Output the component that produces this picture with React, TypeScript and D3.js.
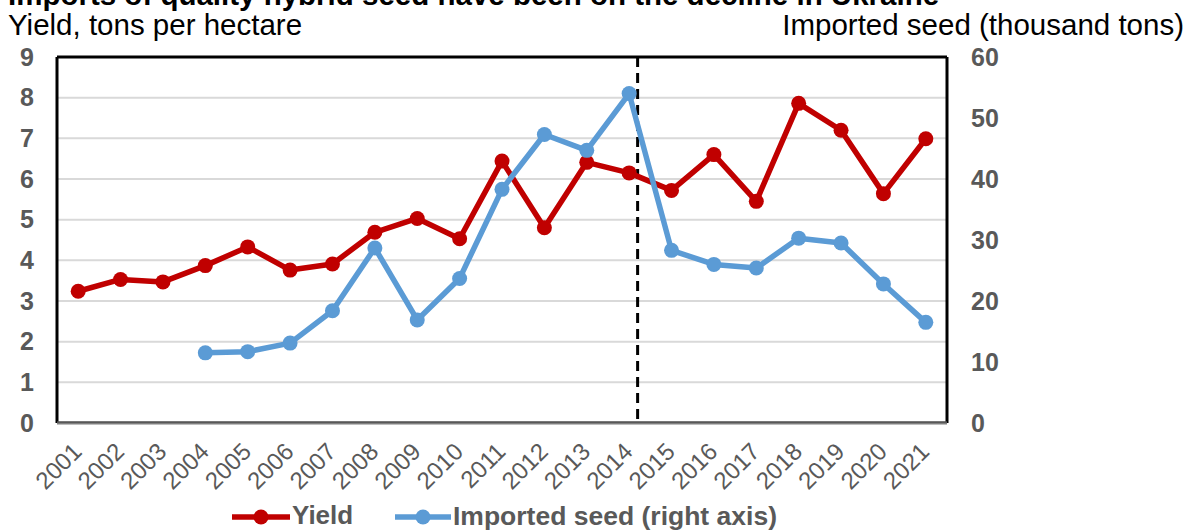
import React from "react";
import * as d3 from "d3";

const years = [2001, 2002, 2003, 2004, 2005, 2006, 2007, 2008, 2009, 2010, 2011, 2012, 2013, 2014, 2015, 2016, 2017, 2018, 2019, 2020, 2021];
const yieldValues = [3.24, 3.53, 3.47, 3.87, 4.33, 3.76, 3.91, 4.69, 5.03, 4.53, 6.44, 4.8, 6.41, 6.15, 5.72, 6.6, 5.45, 7.86, 7.2, 5.64, 6.99];
const importedValues: (number | null)[] = [null, null, null, 11.5, 11.7, 13.1, 18.4, 28.7, 16.9, 23.7, 38.3, 47.3, 44.7, 54.0, 28.3, 26.0, 25.4, 30.3, 29.5, 22.8, 16.5];
const leftTicks = [0, 1, 2, 3, 4, 5, 6, 7, 8, 9];
const rightTicks = [0, 10, 20, 30, 40, 50, 60];
const dividerYear = 2014.2;

const title = "Imports of quality hybrid seed have been on the decline in Ukraine";
const leftTitle = "Yield, tons per hectare";
const rightTitle = "Imported seed (thousand tons)";
const seriesNames = ["Yield", "Imported seed (right axis)"];

const RED = "#C00000";
const BLUE = "#5B9BD5";
const GRAY = "#595959";

export default function App() {
  const W = 1191, H = 531;
  const left = 57, right = 947, top = 57, bottom = 423;
  const x = d3.scaleLinear().domain([2000.5, 2021.5]).range([left, right]);
  const yL = d3.scaleLinear().domain([0, 9]).range([bottom, top]);
  const yR = d3.scaleLinear().domain([0, 60]).range([bottom, top]);

  const yieldLine = d3.line<number>().x((_, i) => x(years[i])).y((d) => yL(d));
  const impPts = years.map((yr, i) => ({ yr, v: importedValues[i] })).filter((d) => d.v != null) as { yr: number; v: number }[];
  const impLine = d3.line<{ yr: number; v: number }>().x((d) => x(d.yr)).y((d) => yR(d.v));

  const font = "Arial, 'Liberation Sans', sans-serif";
  const legY = 515;

  return (
    <svg width={W} height={H} style={{ position: "absolute", left: 0, top: 0 }} fontFamily={font}>
      <rect x={0} y={0} width={W} height={H} fill="#fff" />
      <text x={8} y={5} fontSize={29.5} fontWeight="bold" fill="#000">{title}</text>
      <text x={8} y={35} fontSize={29.5} fill="#000">{leftTitle}</text>
      <text x={1184} y={35} fontSize={29.5} fill="#000" textAnchor="end">{rightTitle}</text>

      {leftTicks.filter((t) => t > 0 && t < 9).map((t) => (
        <line key={t} x1={left} x2={right} y1={yL(t)} y2={yL(t)} stroke="#D9D9D9" strokeWidth={2} />
      ))}

      <line x1={left} x2={left} y1={top} y2={bottom} stroke="#000" strokeWidth={3} />
      <line x1={right} x2={right} y1={top} y2={bottom} stroke="#000" strokeWidth={3} />
      <line x1={left} x2={right} y1={top} y2={top} stroke="#000" strokeWidth={3} />
      <line x1={left} x2={right} y1={bottom} y2={bottom} stroke="#7F7F7F" strokeWidth={3} />
      <line x1={left} x2={right} y1={bottom - 1} y2={bottom - 1} stroke="#333" strokeWidth={1} />

      {leftTicks.map((t) => (
        <text key={t} x={34} y={yL(t)} dy="0.35em" fontSize={25} fontWeight="bold" fill={GRAY} textAnchor="end">{t}</text>
      ))}
      {rightTicks.map((t) => (
        <text key={t} x={971} y={yR(t)} dy="0.35em" fontSize={25} fontWeight="bold" fill={GRAY}>{t}</text>
      ))}
      {years.map((yr) => (
        <text key={yr} transform={`translate(${x(yr) + 5},${bottom + 30}) rotate(-45)`} fontSize={24} fill={GRAY} textAnchor="end">{yr}</text>
      ))}

      <line x1={x(dividerYear)} x2={x(dividerYear)} y1={top} y2={bottom} stroke="#000" strokeWidth={3} strokeDasharray="10,6" />

      <path d={yieldLine(yieldValues) || ""} fill="none" stroke={RED} strokeWidth={5.5} strokeLinejoin="round" />
      {yieldValues.map((v, i) => (
        <circle key={i} cx={x(years[i])} cy={yL(v)} r={7.5} fill={RED} />
      ))}
      <path d={impLine(impPts) || ""} fill="none" stroke={BLUE} strokeWidth={5.5} strokeLinejoin="round" />
      {impPts.map((d, i) => (
        <circle key={i} cx={x(d.yr)} cy={yR(d.v)} r={7.5} fill={BLUE} />
      ))}

      <g>
        <line x1={232} x2={290} y1={legY + 2} y2={legY + 2} stroke={RED} strokeWidth={5.5} />
        <circle cx={261} cy={legY + 2} r={7.5} fill={RED} />
        <text x={292} y={legY} dy="0.36em" fontSize={26} fontWeight="bold" fill={GRAY}>{seriesNames[0]}</text>
        <line x1={395} x2={451} y1={legY + 2} y2={legY + 2} stroke={BLUE} strokeWidth={5.5} />
        <circle cx={423} cy={legY + 2} r={7.5} fill={BLUE} />
        <text x={453} y={legY} dy="0.36em" fontSize={26.5} fontWeight="bold" fill={GRAY}>{seriesNames[1]}</text>
      </g>
    </svg>
  );
}
